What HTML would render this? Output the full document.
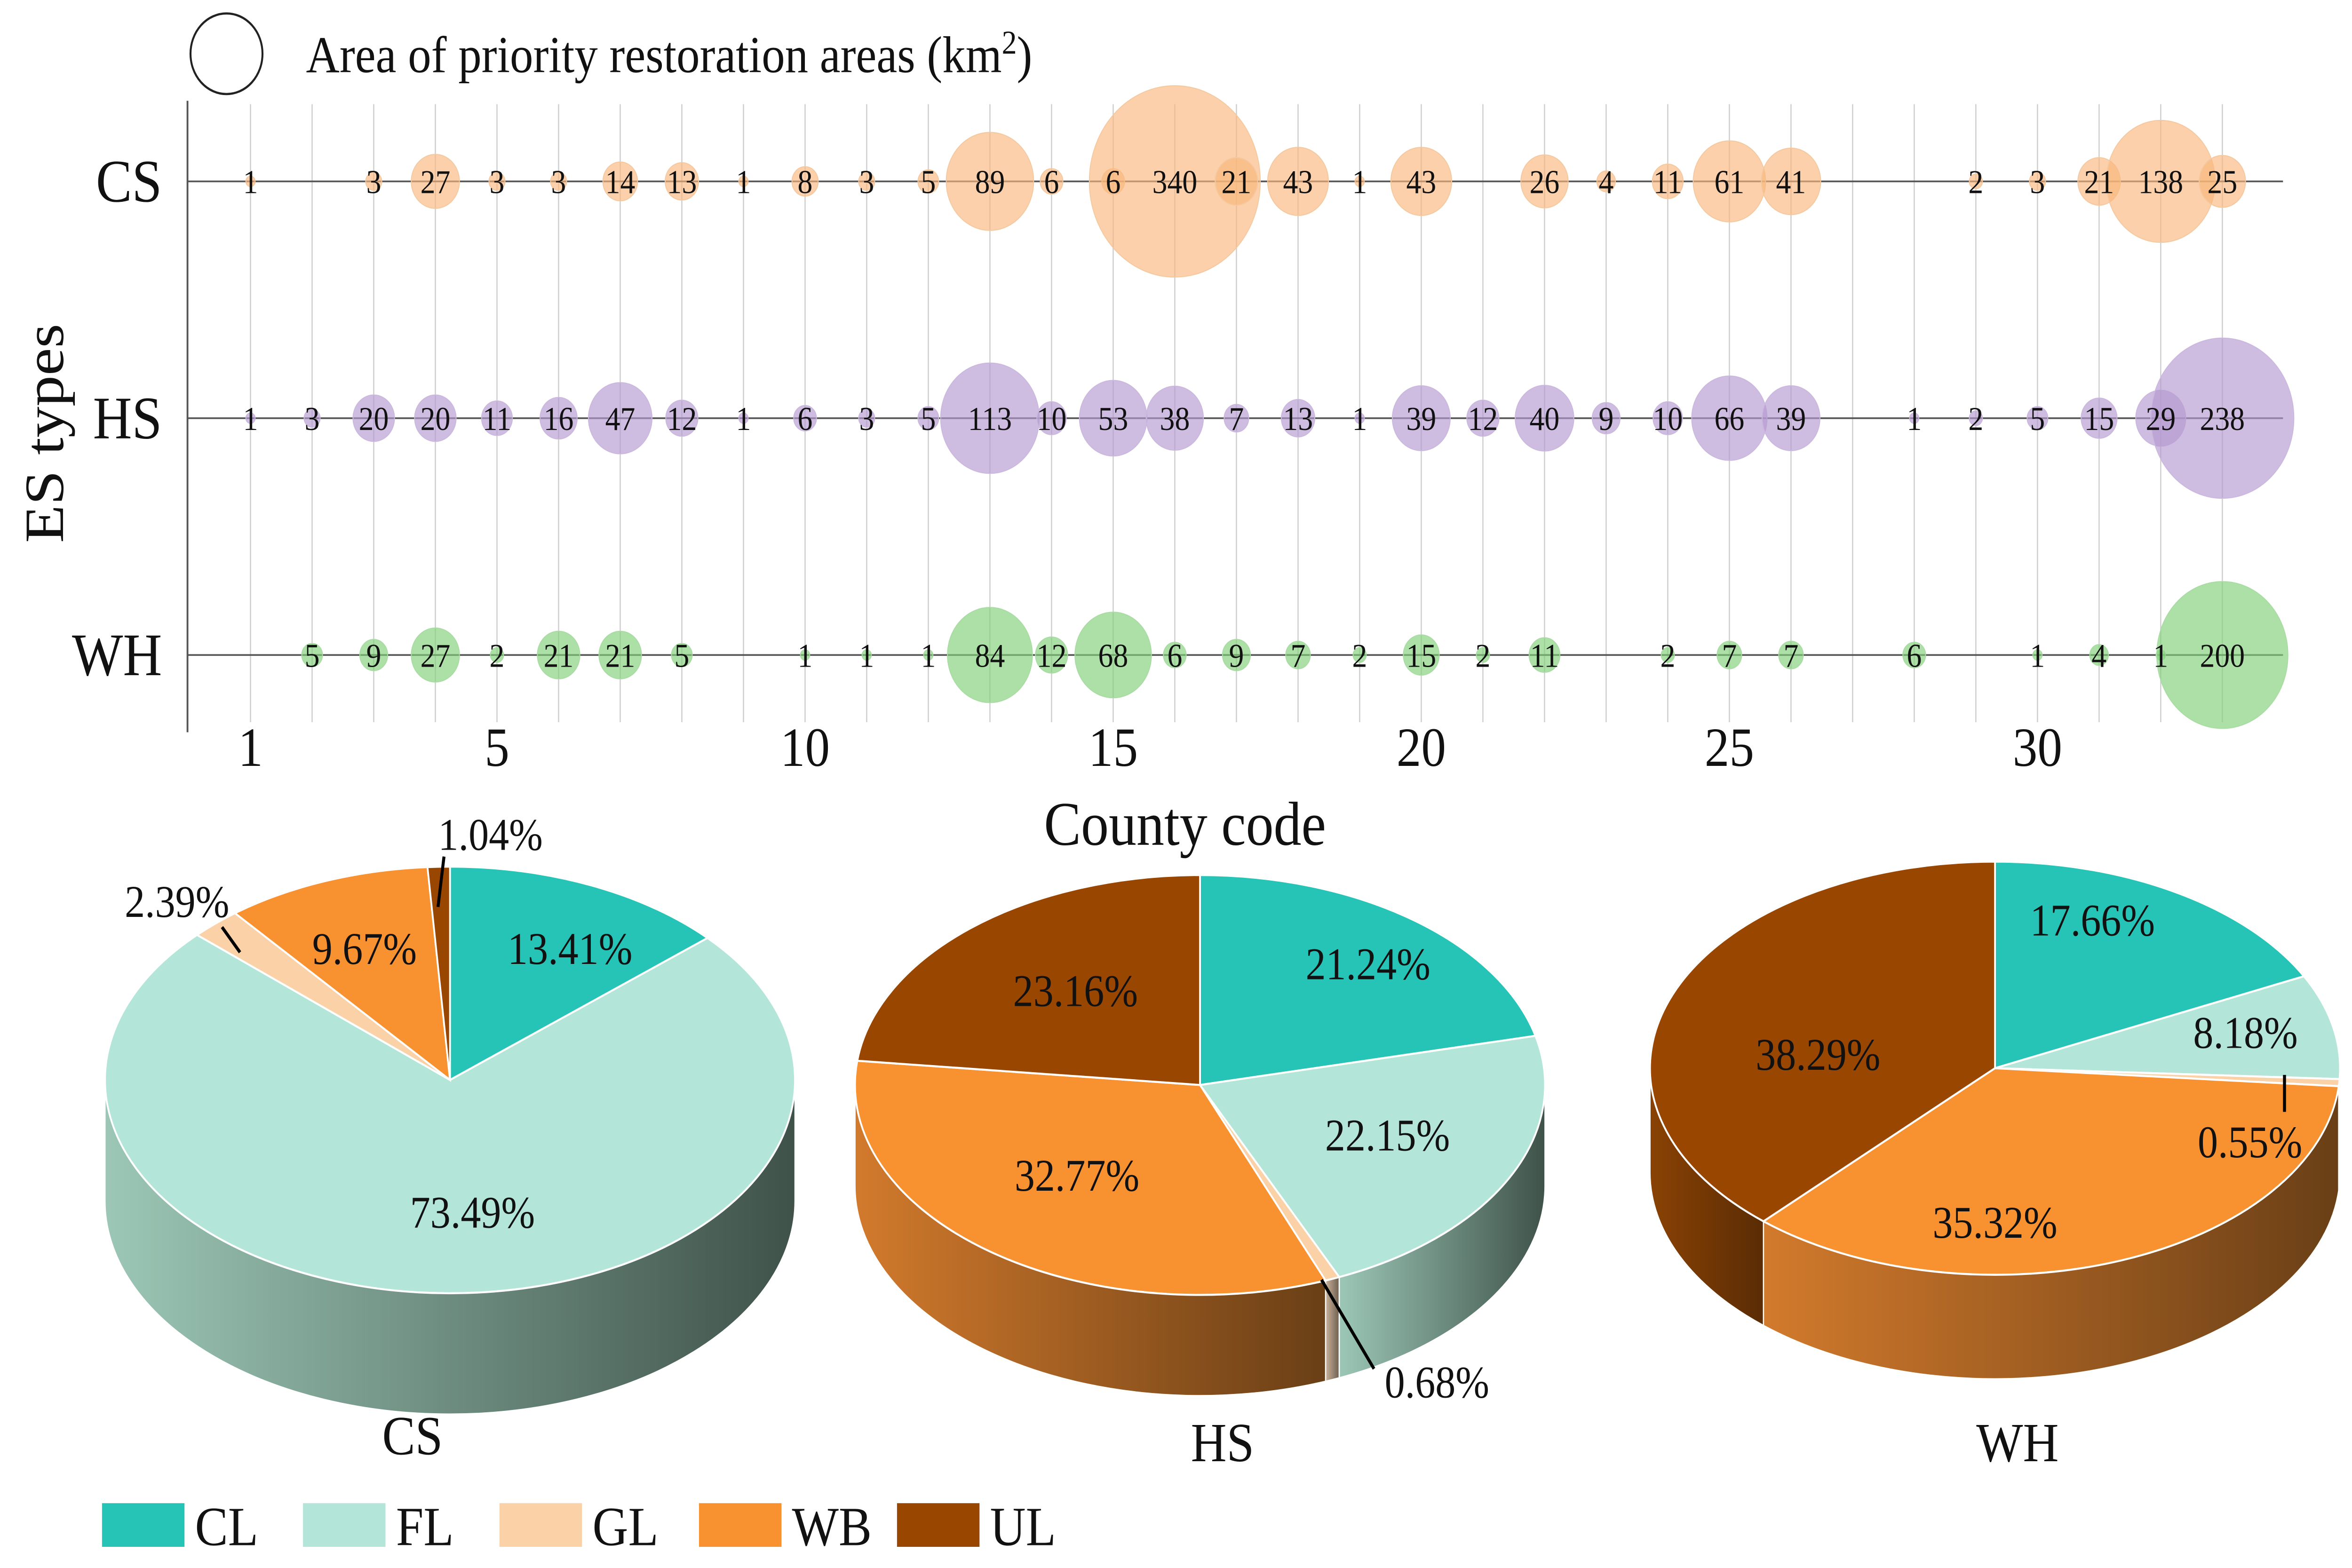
<!DOCTYPE html>
<html><head><meta charset="utf-8">
<style>
html,body{margin:0;padding:0;background:#fff;width:100vw;height:100vh;overflow:hidden;}
svg{display:block;width:100vw;height:100vh;}
text{font-family:"Liberation Serif","DejaVu Serif",serif;fill:#111;}
</style></head>
<body>
<svg id="chart" xmlns="http://www.w3.org/2000/svg" viewBox="0 0 1568 933.6" preserveAspectRatio="none">
<rect width="1568" height="933.6" fill="#fff"/>
<g id="bubbles"></g>
<g id="pies"></g>
<g id="legend"></g>
</svg>
<script>
const NS="http://www.w3.org/2000/svg";
const xTicks=[1,5,10,15,20,25,30];
const rowNames=["CS","HS","WH"];
const csCodes=[1,3,4,5,6,7,8,9,10,11,12,13,14,15,16,17,18,19,20,22,23,24,25,26,29,30,31,32,33];
const csVals=[1,3,27,3,3,14,13,1,8,3,5,89,6,6,340,21,43,1,43,26,4,11,61,41,2,3,21,138,25];
const hsCodes=[1,2,3,4,5,6,7,8,9,10,11,12,13,14,15,16,17,18,19,20,21,22,23,24,25,26,28,29,30,31,32,33];
const hsVals=[1,3,20,20,11,16,47,12,1,6,3,5,113,10,53,38,7,13,1,39,12,40,9,10,66,39,1,2,5,15,29,238];
const whCodes=[2,3,4,5,6,7,8,10,11,12,13,14,15,16,17,18,19,20,21,22,24,25,26,28,30,31,32,33];
const whVals=[5,9,27,2,21,21,5,1,1,1,84,12,68,6,9,7,2,15,2,11,2,7,7,6,1,4,1,200];
const pieCats=["CL","FL","GL","WB","UL"];
const csPct=[13.41,73.49,2.39,9.67,1.04];
const hsPct=[21.24,22.15,0.68,32.77,23.16];
const whPct=[17.66,8.18,0.55,35.32,38.29];

function el(tag,attrs,parent,txt){const e=document.createElementNS(NS,tag);for(const k in attrs)e.setAttribute(k,attrs[k]);if(txt!==undefined)e.textContent=txt;parent.appendChild(e);return e;}
const xS=c=>167+(c-1)*41.08;
const rowY={CS:108,HS:249,WH:390};
const rS=v=>3.09*Math.sqrt(v);

const B=document.getElementById('bubbles');
for(let c=1;c<=33;c++){const l=el('line',{x1:xS(c),x2:xS(c),y1:62,y2:430,stroke:'#cfcfcf','stroke-width':0.8},B);

}
const ax=el('line',{x1:125,x2:125,y1:60,y2:436,stroke:'#555','stroke-width':1.2},B);

rowNames.forEach(n=>{const l=el('line',{x1:125,x2:1522,y1:rowY[n],y2:rowY[n],stroke:'#555','stroke-width':1},B);

const t=el('text',{x:108,y:rowY[n]+12,'font-size':36,'text-anchor':'end'},B,n);
});
xTicks.forEach(v=>{const t=el('text',{x:xS(v),y:456,'font-size':33,'text-anchor':'middle'},B,v);
});
const xt=el('text',{x:790,y:503,'font-size':37,'text-anchor':'middle'},B,'County code');

const yt=el('text',{x:0,y:0,'font-size':37,'text-anchor':'middle',transform:'translate(42,258) rotate(-90)'},B,'ES types');

const lc=el('circle',{cx:151,cy:32,r:24,fill:'none',stroke:'#222','stroke-width':1.3},B);

const lt=el('text',{x:204,y:43,'font-size':31},B);

lt.innerHTML='Area of priority restoration areas (km<tspan dy="-11" font-size="20">2</tspan><tspan dy="11">)</tspan>';
function drawRow(name,codes,vals,fill,stroke){
  codes.forEach((c,i)=>{const ci=el('circle',{cx:xS(c),cy:rowY[name],r:rS(vals[i]),fill:fill,'fill-opacity':0.65,stroke:stroke,'stroke-width':0.6},B);
  });
  codes.forEach((c,i)=>{const t=el('text',{x:xS(c),y:rowY[name]+7,'font-size':20,'text-anchor':'middle'},B,vals[i]);
  });
}
drawRow('CS',csCodes,csVals,'#f9b77c','#f5c9a0');
drawRow('HS',hsCodes,hsVals,'#b49ad0','#cbb8de');
drawRow('WH',whCodes,whVals,'#7fcf78','#a8dca2');

const P=document.getElementById('pies');
const defs=el('defs',{},P);
function grad(id,c1,c2){const g=el('linearGradient',{id:id,x1:0,x2:1,y1:0,y2:0},defs);el('stop',{offset:0,'stop-color':c1},g);el('stop',{offset:1,'stop-color':c2},g);}
grad('gFL','#9cc7b6','#3f524a');grad('gWB','#d27a2c','#6a3f16');grad('gUL','#8a4204','#5a2c05');grad('gGL','#c9b29a','#6f5f50');grad('gCL','#1f9e92','#136860');
const topCol={CL:'#26c4b6',FL:'#b3e6d9',GL:'#fbd1a8',WB:'#f8912f',UL:'#994600'};
function drawPie(name,pct,cx,cy,rx,ry,d,labels,title){
  const g=el('g',{},P);
  const pt=(th,dy)=>[cx+rx*Math.sin(th),cy-ry*Math.cos(th)+(dy||0)];
  let a=0;const sl=[];
  pct.forEach((p,i)=>{const a0=a;a+=p/100*2*Math.PI;sl.push([a0,a,pieCats[i]]);});
  sl.forEach(([a0,a1,c])=>{
    const s=Math.max(a0,Math.PI/2),e=Math.min(a1,1.5*Math.PI);
    if(e<=s)return;
    const p0=pt(s),p1=pt(e),q1=pt(e,d),q0=pt(s,d);
    const big=(e-s)>Math.PI?1:0;
    const path=`M${p0} A${rx},${ry} 0 ${big} 1 ${p1} L${q1} A${rx},${ry} 0 ${big} 0 ${q0} Z`;
    const s1=el('path',{d:path,fill:'url(#g'+c+')',stroke:'#fff','stroke-width':0.8},g);
    
  });
  sl.forEach(([a0,a1,c])=>{
    const p0=pt(a0),p1=pt(a1);const big=(a1-a0)>Math.PI?1:0;
    const s2=el('path',{d:`M${cx},${cy} L${p0} A${rx},${ry} 0 ${big} 1 ${p1} Z`,fill:topCol[c],stroke:'#fff','stroke-width':1.2},g);
    
  });
  labels.forEach(L=>{
    if(L.line){const ll=el('line',{x1:L.line[0],y1:L.line[1],x2:L.line[2],y2:L.line[3],stroke:'#000','stroke-width':2},g);
      }
    const t=el('text',{x:L.x,y:L.y,'font-size':27,'text-anchor':'middle'},g,pct[L.i].toFixed(2)+'%');
    
  });
  const tt=el('text',{x:title[0],y:title[1],'font-size':33,'text-anchor':'middle'},g,name);
  
}
drawPie('CS',csPct,300,643,230,127,72,[
 {i:0,x:380,y:574},{i:1,x:315,y:731},{i:3,x:243,y:574},
 {i:2,x:118,y:546,line:[148,552,160,567]},{i:4,x:327,y:506,line:[296,510,292,540]}],[275,866]);
drawPie('HS',hsPct,800,646,230,125,60,[
 {i:0,x:912,y:583},{i:1,x:925,y:685},{i:3,x:718,y:709},{i:4,x:717,y:599},
 {i:2,x:958,y:832,line:[881,762,916,815]}],[815,870]);
drawPie('WH',whPct,1330,636,230,123,62,[
 {i:0,x:1395,y:557},{i:1,x:1497,y:624},{i:3,x:1330,y:737},{i:4,x:1212,y:637},
 {i:2,x:1500,y:689,line:[1523,640,1523,662]}],[1345,870]);

const LG=document.getElementById('legend');
const lx=[68,202,333,466,598];
pieCats.forEach((c,i)=>{const r=el('rect',{x:lx[i],y:895,width:55,height:26,fill:topCol[c]},LG);
 
 const t=el('text',{x:lx[i]+62,y:920,'font-size':33},LG,c);
 });
</script>
</body></html>
